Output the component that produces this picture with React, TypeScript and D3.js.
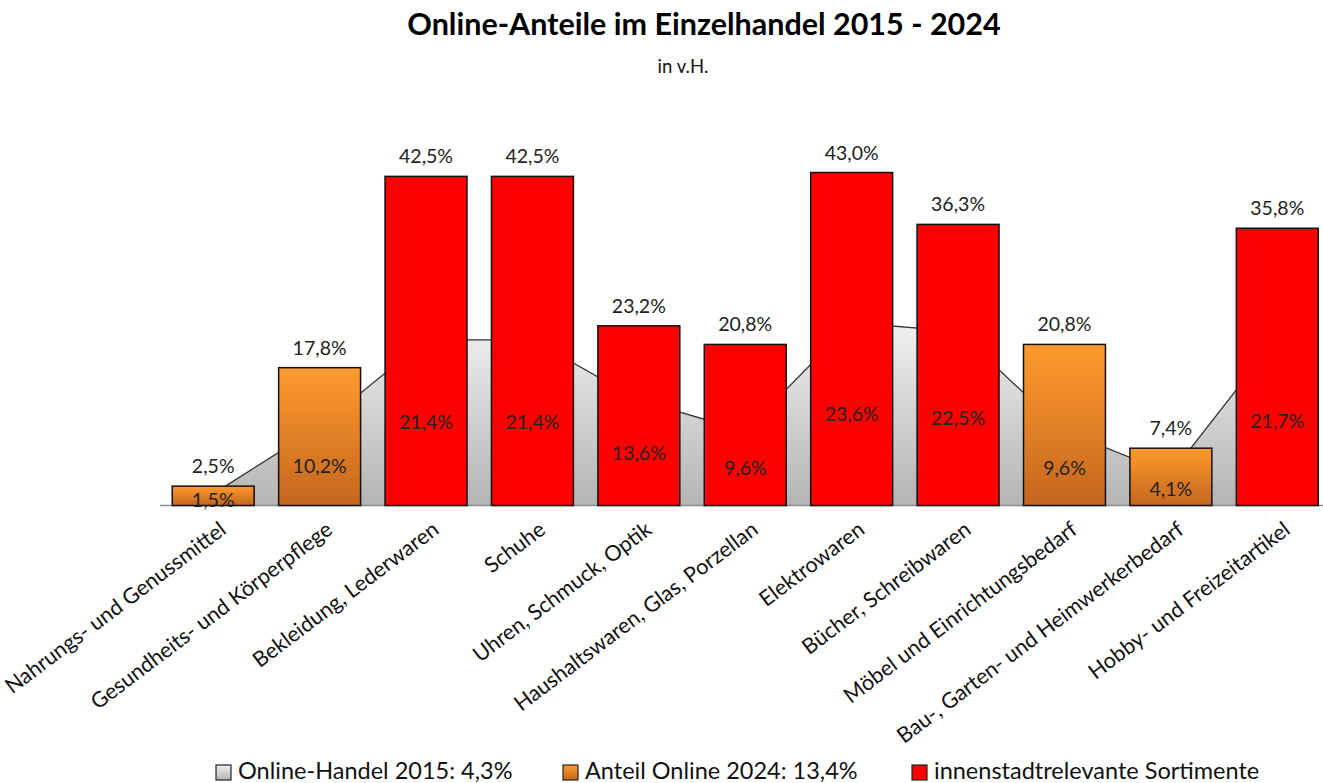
import React from "react";
import * as d3 from "d3";

// categories and values (in %)
const categories = [
  "Nahrungs- und Genussmittel",
  "Gesundheits- und Körperpflege",
  "Bekleidung, Lederwaren",
  "Schuhe",
  "Uhren, Schmuck, Optik",
  "Haushaltswaren, Glas, Porzellan",
  "Elektrowaren",
  "Bücher, Schreibwaren",
  "Möbel und Einrichtungsbedarf",
  "Bau-, Garten- und Heimwerkerbedarf",
  "Hobby- und Freizeitartikel",
];
const online2015 = [1.5, 10.2, 21.4, 21.4, 13.6, 9.6, 23.6, 22.5, 9.6, 4.1, 21.7];
const online2024 = [2.5, 17.8, 42.5, 42.5, 23.2, 20.8, 43.0, 36.3, 20.8, 7.4, 35.8];
// true = innenstadtrelevant (red)
const innenstadt = [false, false, true, true, true, true, true, true, false, false, true];
const legendLabels = [
  "Online-Handel 2015: 4,3%",
  "Anteil Online 2024: 13,4%",
  "innenstadtrelevante Sortimente",
];

const W = 1323;
const H = 783;
const FONT = "Lato, 'Open Sans', sans-serif";

const fmt = (v: number) => v.toFixed(1).replace(".", ",") + "%";

export default function App() {
  const x = d3
    .scaleBand<number>()
    .domain(d3.range(categories.length))
    .range([160, 1330.5])
    .paddingInner(0.23)
    .paddingOuter(0.115);
  const y = d3.scaleLinear().domain([0, 50]).range([505.5, 118.3]);
  const cx = (i: number) => (x(i) as number) + x.bandwidth() / 2;

  const area = d3
    .area<number>()
    .x((_, i) => cx(i))
    .y0(y(0))
    .y1((d) => y(d));
  const line = d3
    .line<number>()
    .x((_, i) => cx(i))
    .y((d) => y(d));

  const legendX = [216, 563, 912];
  const legendFills = ["url(#grayGrad)", "url(#orangeGrad)", "#ff0000"];

  return (
    <svg
      width={W}
      height={H}
      style={{ position: "absolute", left: 0, top: 0, background: "#fff" }}
      fontFamily={FONT}
    >
      <defs>
        <linearGradient id="grayGrad" x1="0" y1="0" x2="0" y2="1">
          <stop offset="0%" stopColor="#f0f0f0" />
          <stop offset="100%" stopColor="#b4b4b4" />
        </linearGradient>
        <linearGradient id="orangeGrad" x1="0" y1="0" x2="0" y2="1">
          <stop offset="0%" stopColor="#ff9a2e" />
          <stop offset="100%" stopColor="#c4661e" />
        </linearGradient>
      </defs>

      {/* title */}
      <text x={704} y={35} textAnchor="middle" fontSize={30.5} fontWeight="bold" fill="#000">
        Online-Anteile im Einzelhandel 2015 - 2024
      </text>
      <text x={683} y={73} textAnchor="middle" fontSize={18.5} fill="#111">
        in v.H.
      </text>

      {/* 2015 area */}
      <path d={area(online2015) ?? ""} fill="url(#grayGrad)" />
      <path d={line(online2015) ?? ""} fill="none" stroke="#333" strokeWidth={1.3} />

      {/* axis line */}
      <line x1={160} x2={1323} y1={y(0)} y2={y(0)} stroke="#8c8c8c" strokeWidth={1.5} />

      {/* 2024 bars */}
      {online2024.map((v, i) => (
        <rect
          key={i}
          x={x(i)}
          y={y(v)}
          width={x.bandwidth()}
          height={y(0) - y(v)}
          fill={innenstadt[i] ? "#ff0000" : "url(#orangeGrad)"}
          stroke="#111"
          strokeWidth={1.5}
        />
      ))}

      {/* labels above bars */}
      {online2024.map((v, i) => (
        <text key={i} x={cx(i)} y={y(v) - 13} textAnchor="middle" fontSize={19.5} fill="#222">
          {fmt(v)}
        </text>
      ))}

      {/* 2015 labels inside */}
      {online2015.map((v, i) => (
        <text
          key={i}
          x={cx(i)}
          y={y(v / 2)}
          dy="0.35em"
          textAnchor="middle"
          fontSize={19.5}
          fill="#222"
        >
          {fmt(v)}
        </text>
      ))}

      {/* category labels */}
      {categories.map((c, i) => (
        <text
          key={i}
          transform={`translate(${cx(i) + 5},${520}) rotate(-37)`}
          textAnchor="end"
          dy="0.72em"
          fontSize={21.5}
          fill="#111"
        >
          {c}
        </text>
      ))}

      {/* legend */}
      {legendLabels.map((l, i) => (
        <g key={i}>
          <rect
            x={legendX[i]}
            y={765}
            width={15}
            height={15}
            fill={legendFills[i]}
            stroke="#222"
            strokeWidth={1.2}
          />
          <text x={legendX[i] + 22} y={779} fontSize={23.5} fill="#111">
            {l}
          </text>
        </g>
      ))}
    </svg>
  );
}
